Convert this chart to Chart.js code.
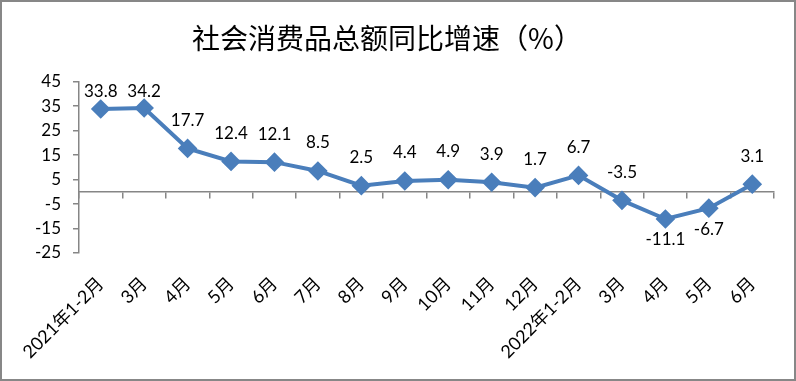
<!DOCTYPE html>
<html>
<head>
<meta charset="utf-8">
<script src="https://cdn.jsdelivr.net/npm/chart.js@4.4.1/dist/chart.umd.min.js"></script>
<style>
  html, body { margin: 0; padding: 0; background: #fff; }
  #wrap { width: 796px; height: 381px; }
</style>
</head>
<body>
<div id="wrap"><canvas id="myChart" width="796" height="381"></canvas></div>
<script>
const months = ['2021年1-2月', '3月', '4月', '5月', '6月', '7月', '8月', '9月', '10月', '11月', '12月',
    '2022年1-2月', '3月', '4月', '5月', '6月'];
const growth = [33.8, 34.2, 17.7, 12.4, 12.1, 8.5, 2.5, 4.4, 4.9, 3.9, 1.7, 6.7, -3.5, -11.1, -6.7, 3.1];
const yTicks = [-25, -15, -5, 5, 15, 25, 35, 45];

const numFont = 'Lato, "Liberation Sans", sans-serif';
const lineBlue = '#4a7ebb';
const axisGrey = '#868686';

// background + outer frame
const frame = {
    id: 'frame',
    beforeDraw(chart) {
        const c = chart.ctx;
        c.save();
        c.fillStyle = '#fff';
        c.fillRect(0, 0, chart.width, chart.height);
        c.strokeStyle = '#878787';
        c.lineWidth = 2;
        c.strokeRect(1, 1, chart.width - 2, chart.height - 2);
        c.restore();
    }
};

// value labels next to the points
const valueLabels = {
    id: 'valueLabels',
    afterDatasetsDraw(chart) {
        const c = chart.ctx;
        const meta = chart.getDatasetMeta(0);
        c.save();
        c.font = '17px ' + numFont;
        c.fillStyle = '#000';
        c.textAlign = 'center';
        c.textBaseline = 'middle';
        meta.data.forEach((pt, i) => {
            const v = growth[i];
            let y = v < -5 ? pt.y + 21 : pt.y - 28;
            if (y < 92) y = 92;
            c.fillText(v.toFixed(1), pt.x, y);
        });
        c.restore();
    }
};

const ctx = document.getElementById('myChart');
const myChart = new Chart(ctx, {
    type: 'line',
    data: {
        labels: months,
        datasets: [{
            label: '同比增速',
            data: growth,
            borderColor: lineBlue,
            backgroundColor: lineBlue,
            borderWidth: 4,
            pointStyle: 'rectRot',
            pointRadius: 7,
            pointHoverRadius: 7,
            tension: 0
        }]
    },
    options: {
        responsive: false,
        animation: false,
        events: [],
        layout: {
            padding: { left: 0, right: 22, top: 0, bottom: 0 }
        },
        scales: {
            x: {
                offset: true,
                grid: { display: false },
                border: { display: false },
                ticks: {
                    autoSkip: false,
                    minRotation: 45,
                    maxRotation: 45,
                    padding: 12,
                    color: '#000',
                    font: { family: 'Lato, "Noto Sans CJK SC", sans-serif', size: 18 }
                },
                afterFit(scale) { scale.height = 128; }
            },
            x2: {
                type: 'category',
                labels: months,
                position: { y: 0 },
                offset: true,
                grid: {
                    offset: true,
                    drawOnChartArea: false,
                    drawTicks: true,
                    tickLength: 6,
                    color: axisGrey,
                    lineWidth: 1.5
                },
                border: { display: true, color: axisGrey, width: 1.5 },
                ticks: { display: false }
            },
            y: {
                min: -25,
                max: 45,
                afterBuildTicks(scale) {
                    scale.ticks = yTicks.map(v => ({ value: v }));
                },
                grid: {
                    drawOnChartArea: false,
                    drawTicks: true,
                    tickLength: 6,
                    color: axisGrey,
                    lineWidth: 1.5
                },
                border: { display: true, color: axisGrey, width: 1.5 },
                ticks: {
                    padding: 12,
                    color: '#000',
                    font: { family: numFont, size: 17 }
                },
                afterFit(scale) { scale.width = 79; }
            }
        },
        plugins: {
            legend: { display: false },
            tooltip: { enabled: false },
            title: {
                display: true,
                text: '社会消费品总额同比增速（%）',
                color: '#000',
                font: { family: '"Noto Sans CJK SC", sans-serif', size: 28, weight: 'normal' },
                padding: { top: 22, bottom: 26 }
            }
        }
    },
    plugins: [frame, valueLabels]
});
</script>
</body>
</html>
